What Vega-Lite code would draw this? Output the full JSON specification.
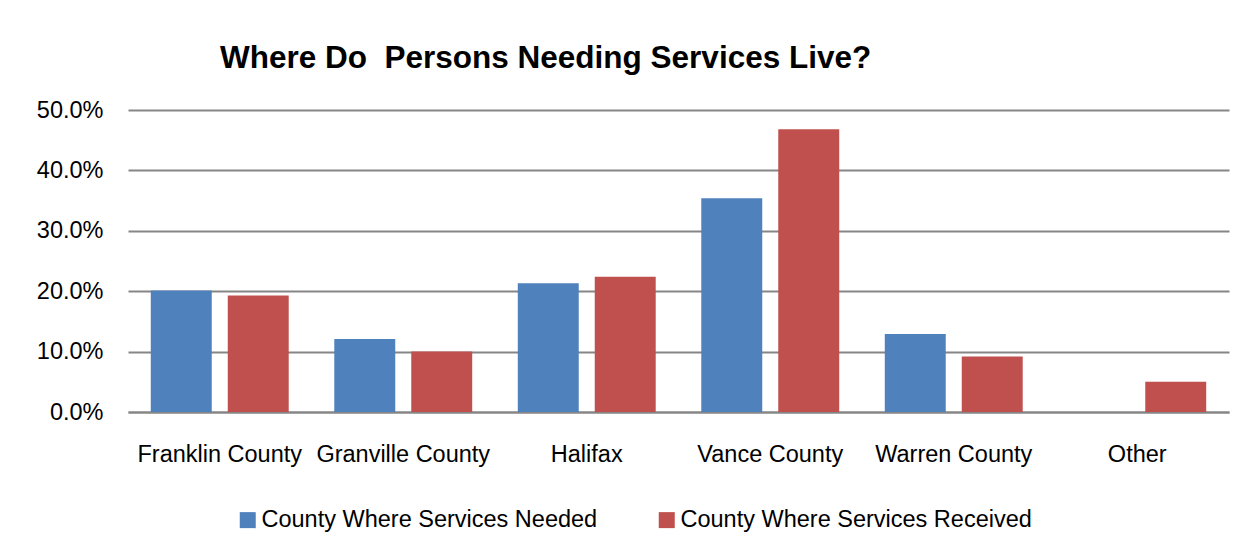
{
  "$schema": "https://vega.github.io/schema/vega-lite/v6.json",
  "autosize": {"type": "none"},
  "width": 1101,
  "height": 302,
  "padding": {"left": 128, "top": 110, "right": 28, "bottom": 146},
  "background": "white",
  "title": {
    "text": "Where Do\u00a0 Persons Needing Services Live?",
    "anchor": "start",
    "frame": "group",
    "dx": 92,
    "dy": 43,
    "offset": 42,
    "baseline": "alphabetic",
    "font": "Liberation Sans",
    "fontSize": 31.5,
    "fontWeight": "bold",
    "color": "#000000"
  },
  "data": {
    "values": [
      {"county": "Franklin County", "series": "County Where Services Needed", "pct": 0.201},
      {"county": "Franklin County", "series": "County Where Services Received", "pct": 0.193},
      {"county": "Granville County", "series": "County Where Services Needed", "pct": 0.121},
      {"county": "Granville County", "series": "County Where Services Received", "pct": 0.100},
      {"county": "Halifax", "series": "County Where Services Needed", "pct": 0.213},
      {"county": "Halifax", "series": "County Where Services Received", "pct": 0.224},
      {"county": "Vance County", "series": "County Where Services Needed", "pct": 0.354},
      {"county": "Vance County", "series": "County Where Services Received", "pct": 0.468},
      {"county": "Warren County", "series": "County Where Services Needed", "pct": 0.129},
      {"county": "Warren County", "series": "County Where Services Received", "pct": 0.092},
      {"county": "Other", "series": "County Where Services Needed", "pct": 0.0},
      {"county": "Other", "series": "County Where Services Received", "pct": 0.050}
    ]
  },
  "mark": {"type": "bar"},
  "encoding": {
    "x": {
      "field": "county",
      "type": "nominal",
      "sort": null,
      "scale": {"paddingInner": 0, "paddingOuter": 0},
      "axis": {
        "title": null,
        "labelAngle": 0,
        "labelFont": "Liberation Sans",
        "labelFontSize": 23.5,
        "labelColor": "#000000",
        "labelPadding": 30,
        "labelLimit": 0,
        "ticks": false,
        "domain": true,
        "domainColor": "#868686",
        "domainWidth": 2,
        "grid": false
      }
    },
    "xOffset": {
      "field": "series",
      "type": "nominal",
      "scale": {"paddingInner": 0.208, "paddingOuter": 0.296}
    },
    "y": {
      "field": "pct",
      "type": "quantitative",
      "scale": {"domain": [0, 0.5], "nice": false},
      "axis": {
        "title": null,
        "format": ".1%",
        "values": [0, 0.1, 0.2, 0.3, 0.4, 0.5],
        "labelFont": "Liberation Sans",
        "labelFontSize": 23.5,
        "labelColor": "#000000",
        "labelPadding": 25,
        "ticks": false,
        "domain": false,
        "grid": true,
        "gridColor": "#868686",
        "gridWidth": 2
      }
    },
    "color": {
      "field": "series",
      "type": "nominal",
      "scale": {
        "domain": ["County Where Services Needed", "County Where Services Received"],
        "range": ["#4F81BD", "#C0504D"]
      },
      "legend": {
        "title": null,
        "orient": "none",
        "direction": "horizontal",
        "legendX": 108,
        "legendY": 398,
        "symbolType": "square",
        "symbolSize": 256,
        "symbolStrokeWidth": 0,
        "symbolOpacity": 1,
        "labelFont": "Liberation Sans",
        "labelFontSize": 23.5,
        "labelColor": "#000000",
        "labelLimit": 0,
        "labelOffset": 2,
        "columnPadding": 57
      }
    }
  },
  "config": {
    "view": {"stroke": null}
  }
}
